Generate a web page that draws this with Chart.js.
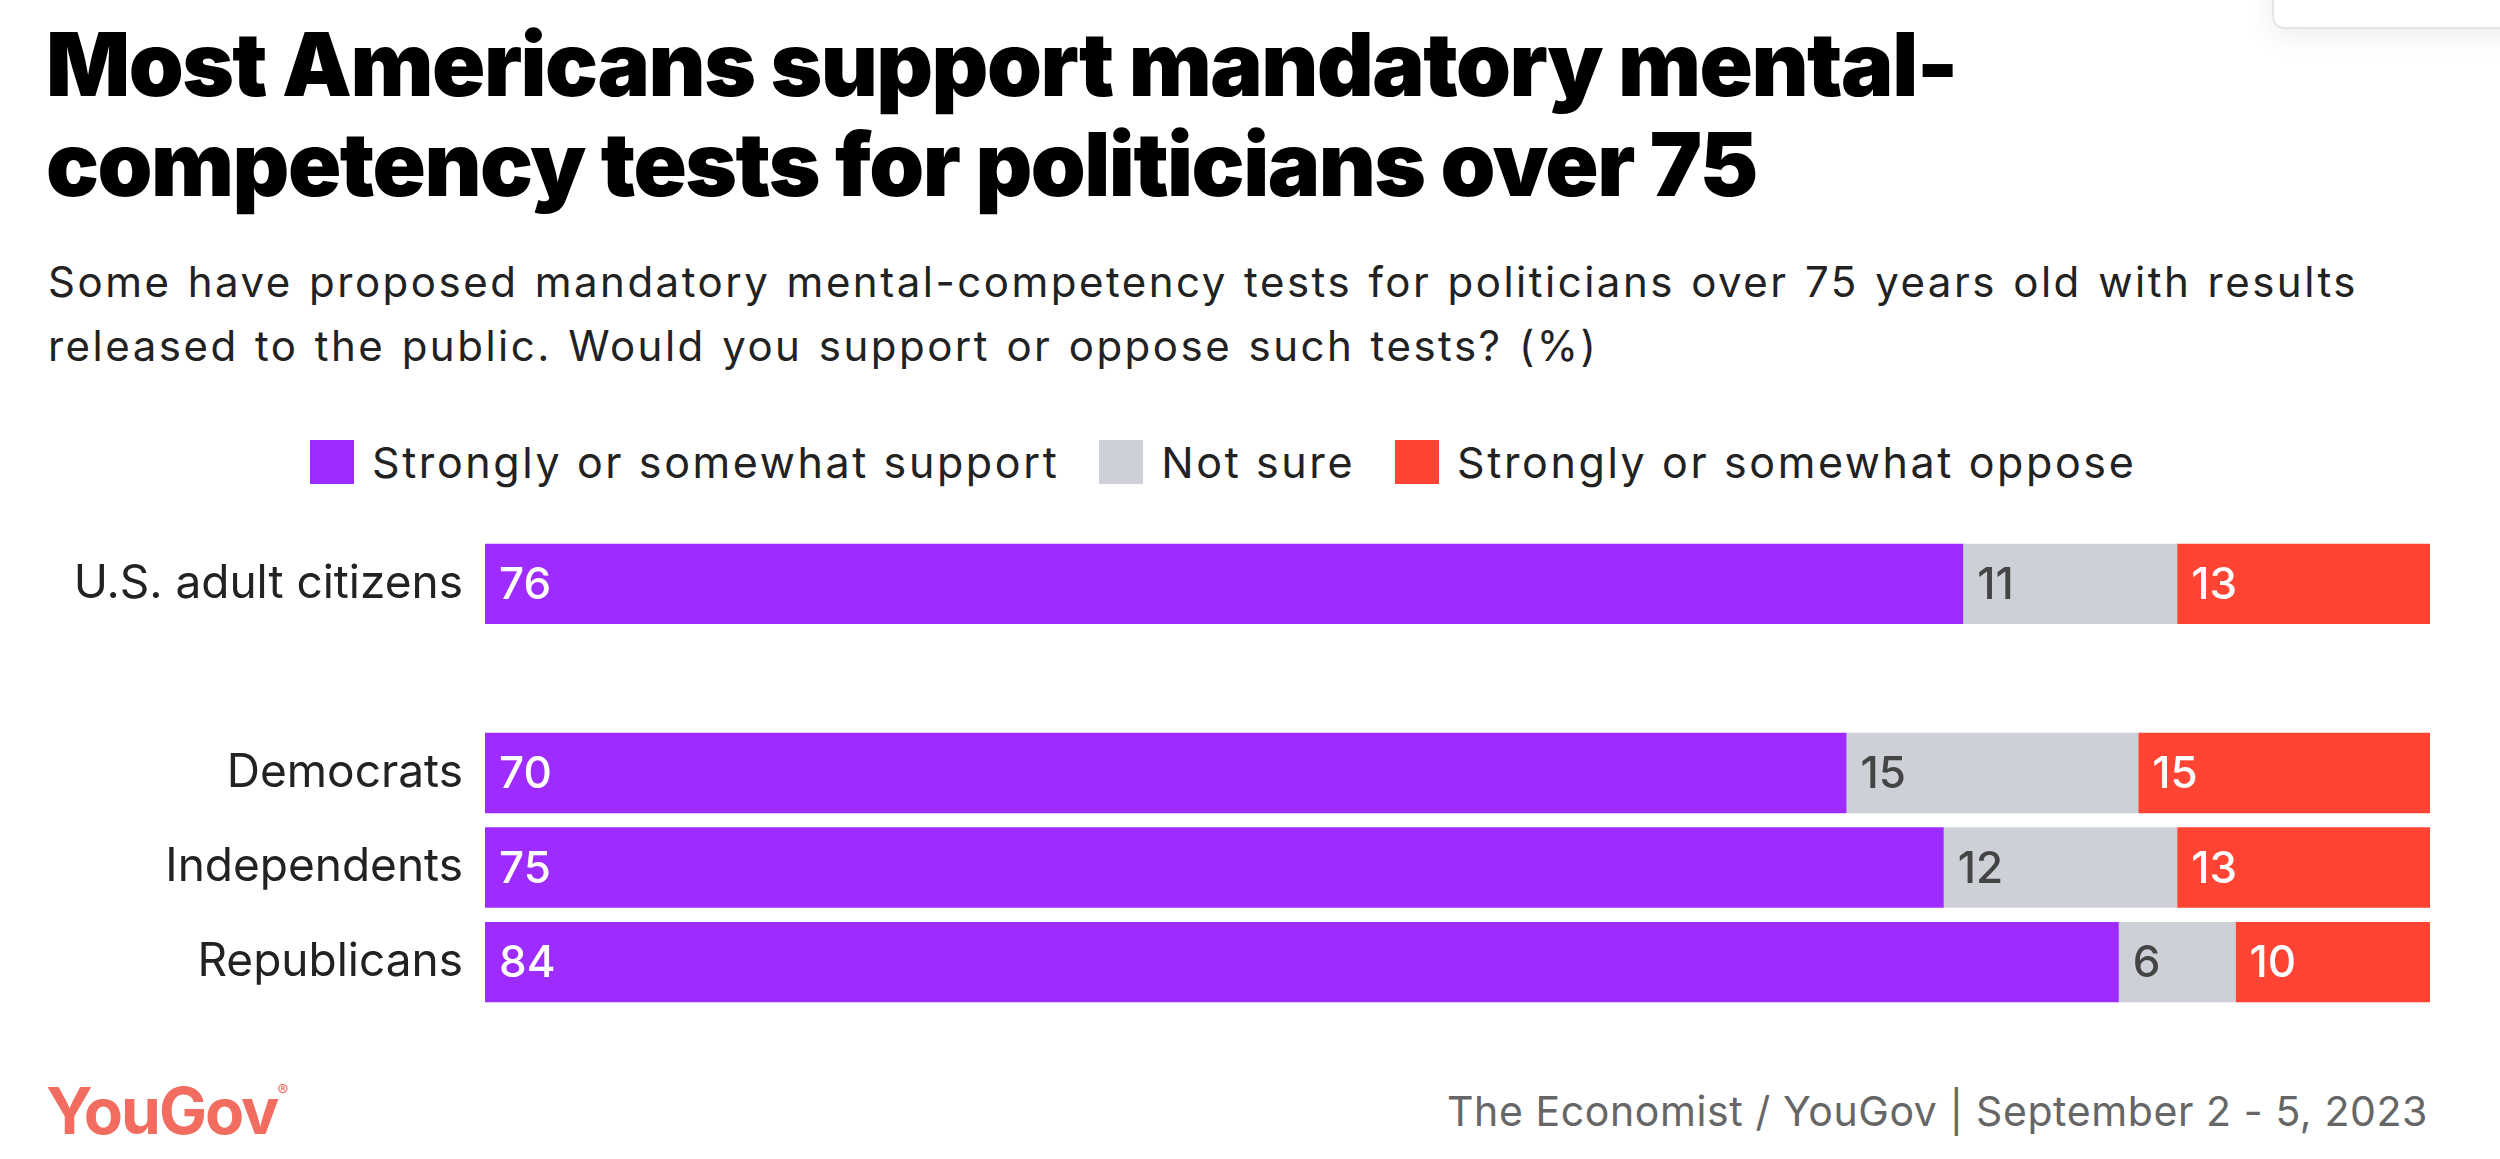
<!DOCTYPE html>
<html>
<head>
<meta charset="utf-8">
<script src="https://cdn.jsdelivr.net/npm/chart.js@4.4.0/dist/chart.umd.min.js"></script>
<style>
body{margin:0;width:2500px;height:1159px;background:#fff;font-family:Inter,"Noto Sans",sans-serif;position:relative;overflow:hidden}
#title{position:absolute;left:46px;top:14px;font-size:88px;font-weight:900;line-height:100px;color:#000;letter-spacing:-1.5px}
#sub{position:absolute;left:48px;top:250px;font-size:42px;line-height:64px;color:#222;letter-spacing:2.5px;word-spacing:2px}
#legend{position:absolute;left:310px;top:436px;font-size:43px;color:#222;display:flex;align-items:center;letter-spacing:2.6px}
#legend span.sw{display:inline-block;width:44px;height:44px;margin-right:18px}
#legend span.lb{margin-right:40px}
#wrap{position:absolute;left:0;top:487px;width:2430px;height:572px}
#logo{position:absolute;left:46px;top:1072px;font-size:64px;font-weight:700;color:#f26c5f;letter-spacing:-2px}
#logo sup{font-size:16px;font-weight:400;vertical-align:top;position:relative;top:8px}
#src{position:absolute;right:72px;top:1086px;font-size:41px;color:#666;letter-spacing:0.6px}
#box{position:absolute;left:2272px;top:-20px;width:260px;height:45px;border:2px solid #e6e6e6;border-radius:12px;box-shadow:0 6px 30px rgba(0,0,0,0.08)}
</style>
</head>
<body>
<div id="box"></div>
<div id="title">Most Americans support mandatory mental-<br>competency tests for politicians over 75</div>
<div id="sub">Some have proposed mandatory mental-competency tests for politicians over 75 years old with results<br>released to the public. Would you support or oppose such tests? (%)</div>
<div id="legend">
<span class="sw" style="background:#9e2bff"></span><span class="lb">Strongly or somewhat support</span>
<span class="sw" style="background:#cdd0d7"></span><span class="lb">Not sure</span>
<span class="sw" style="background:#ff4433"></span><span class="lb">Strongly or somewhat oppose</span>
</div>
<div id="wrap"><canvas id="c"></canvas></div>
<div id="logo">YouGov<sup>®</sup></div>
<div id="src">The Economist / YouGov | September 2 - 5, 2023</div>
<script>
var groups = ["U.S. adult citizens", "", "Democrats", "Independents", "Republicans"];
var support = [76, null, 70, 75, 84];
var notSure = [11, null, 15, 12, 6];
var oppose = [13, null, 15, 13, 10];
var seriesNames = ["Strongly or somewhat support", "Not sure", "Strongly or somewhat oppose"];
var colors = ["#9e2bff", "#cdd0d7", "#ff4433"];
var labelColors = ["#fff", "#444", "#fff"];

var labelPlugin = {
  id: "barLabels",
  afterDatasetsDraw: function(chart){
    var ctx = chart.ctx;
    ctx.save();
    ctx.font = "500 44px Inter, 'Noto Sans', sans-serif";
    ctx.textBaseline = "middle";
    chart.data.datasets.forEach(function(ds, i){
      chart.getDatasetMeta(i).data.forEach(function(bar, j){
        if (ds.data[j] == null) return;
        ctx.fillStyle = labelColors[i];
        ctx.fillText(ds.data[j], bar.base + 14, bar.y + 2);
      });
    });
    ctx.restore();
  }
};

new Chart("c", {
  type: "bar",
  data: {
    labels: groups,
    datasets: [support, notSure, oppose].map(function(d, i){
      return {label: seriesNames[i], data: d, backgroundColor: colors[i], barPercentage: 1, categoryPercentage: 0.85};
    })
  },
  options: {
    indexAxis: "y",
    responsive: true,
    maintainAspectRatio: false,
    animation: false,
    layout: {padding: 0},
    plugins: {legend: {display: false}, tooltip: {enabled: false}},
    scales: {
      x: {stacked: true, min: 0, max: 100, display: false},
      y: {stacked: true, grid: {display: false, drawTicks: false}, border: {display: false},
          ticks: {color: "#222", padding: 22, font: {size: 46, family: "Inter, 'Noto Sans', sans-serif"}},
          afterFit: function(s){ s.width = 485; }}
    }
  },
  plugins: [labelPlugin]
});
</script>
</body>
</html>
